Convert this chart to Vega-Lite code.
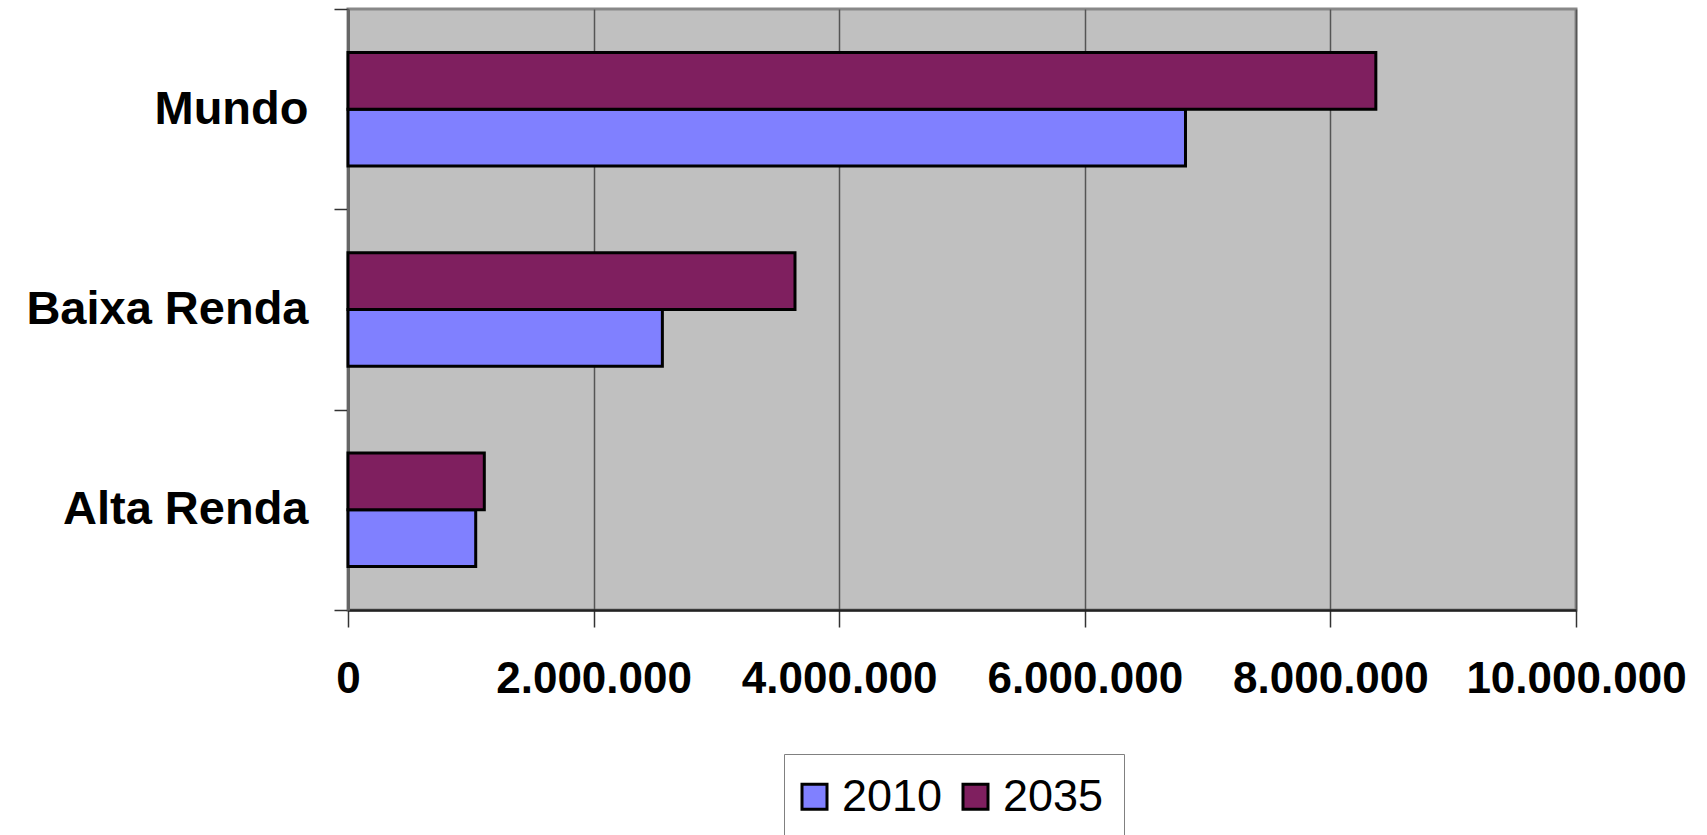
{
  "$schema": "https://vega.github.io/schema/vega-lite/v6.json",
  "autosize": {"type": "none"},
  "padding": {"left": 348, "top": 9, "right": 131, "bottom": 225},
  "width": 1228,
  "height": 601,
  "background": "white",
  "data": {
    "values": [
      {"regiao": "Mundo", "ano": "2010", "valor": 6820000},
      {"regiao": "Mundo", "ano": "2035", "valor": 8370000},
      {"regiao": "Baixa Renda", "ano": "2010", "valor": 2560000},
      {"regiao": "Baixa Renda", "ano": "2035", "valor": 3640000},
      {"regiao": "Alta Renda", "ano": "2010", "valor": 1040000},
      {"regiao": "Alta Renda", "ano": "2035", "valor": 1110000}
    ]
  },
  "mark": {"type": "bar", "stroke": "black", "strokeWidth": 3},
  "encoding": {
    "y": {
      "field": "regiao",
      "type": "nominal",
      "sort": ["Mundo", "Baixa Renda", "Alta Renda"],
      "scale": {"paddingInner": 0, "paddingOuter": 0},
      "axis": {
        "title": null,
        "tickBand": "extent",
        "tickSize": 14,
        "tickColor": "#333333",
        "tickWidth": 1.5,
        "domainColor": "#666666",
        "domainWidth": 3,
        "grid": false,
        "labelFont": "Liberation Sans",
        "labelFontWeight": "bold",
        "labelFontSize": 47,
        "labelColor": "black",
        "labelPadding": 26,
        "labelLimit": 0
      }
    },
    "yOffset": {
      "field": "ano",
      "type": "nominal",
      "sort": ["2035", "2010"],
      "scale": {"paddingInner": 0, "paddingOuter": 0.766}
    },
    "x": {
      "field": "valor",
      "type": "quantitative",
      "scale": {"domain": [0, 10000000], "nice": false},
      "axis": {
        "title": null,
        "values": [0, 2000000, 4000000, 6000000, 8000000, 10000000],
        "format": ",d",
        "grid": true,
        "gridColor": "#555555",
        "gridWidth": 1.5,
        "tickSize": 17,
        "tickColor": "#333333",
        "tickWidth": 1.5,
        "domainColor": "#222222",
        "domainWidth": 2.5,
        "labelFont": "Liberation Sans",
        "labelFontWeight": "bold",
        "labelFontSize": 44,
        "labelColor": "black",
        "labelPadding": 30,
        "labelLimit": 0,
        "labelFlush": false,
        "labelOverlap": false
      }
    },
    "color": {
      "field": "ano",
      "type": "nominal",
      "scale": {"domain": ["2010", "2035"], "range": ["#8080FF", "#7F1F5F"]},
      "legend": {
        "title": null,
        "orient": "none",
        "direction": "horizontal",
        "legendX": 436,
        "legendY": 745,
        "symbolType": "square",
        "symbolSize": 625,
        "symbolStrokeColor": "black",
        "symbolStrokeWidth": 3,
        "symbolOpacity": 1,
        "symbolOffset": -12,
        "labelFont": "Liberation Sans",
        "labelFontSize": 45,
        "labelColor": "black",
        "labelOffset": 5,
        "labelLimit": 0,
        "columnPadding": 14,
        "padding": 20,
        "strokeColor": "#808080",
        "fillColor": "white"
      }
    }
  },
  "config": {
    "locale": {"number": {"decimal": ",", "thousands": ".", "grouping": [3], "currency": ["", ""]}},
    "view": {"fill": "#C0C0C0", "stroke": "#888888", "strokeWidth": 3}
  }
}
